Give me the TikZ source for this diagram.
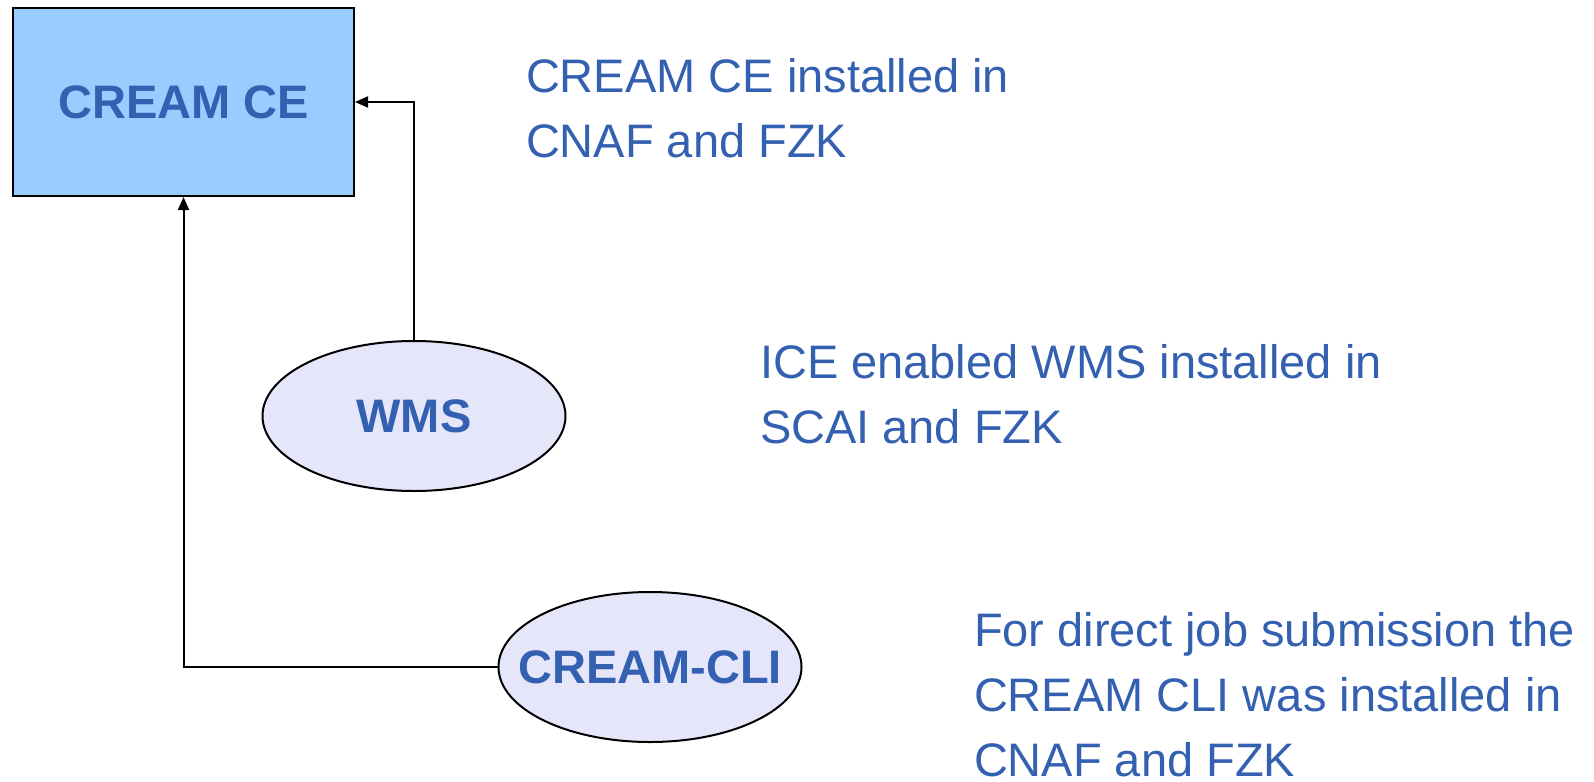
\documentclass[tikz,border=0pt]{standalone}
\usepackage{fontspec}
\setmainfont{Liberation Sans}
\usetikzlibrary{positioning, shapes.geometric, arrows.meta}

\definecolor{textblue}{RGB}{51,96,176}
\definecolor{boxblue}{RGB}{153,204,255}
\definecolor{lavender}{RGB}{230,230,250}

\begin{document}
\begin{tikzpicture}[x=1pt, y=-1pt, line width=2pt,
		big/.style = {font=\fontsize{47}{65}\selectfont, text=textblue},
		ce/.style = {draw, fill=boxblue, minimum width=341pt, minimum height=188pt, inner sep=0pt, big, font=\fontsize{47}{65}\selectfont\bfseries},
		comp/.style = {draw, ellipse, fill=lavender, minimum width=303pt, minimum height=150pt, inner ysep=0pt, inner xsep=-30pt, big, font=\fontsize{47}{65}\selectfont\bfseries},
		note/.style = {big, anchor=west, align=left, inner sep=0pt},
		link/.style = {-{Triangle[length=13pt, width=11pt]}}]
		\useasboundingbox (0,0) rectangle (1594,781);
		\node[ce] (CE) at (183.5,102) {CREAM CE};
		\node[comp] (WMS) at (414,416) {WMS};
		\node[comp] (CLI) at (650,667) {CREAM-CLI};
		\node[note] (t1) at (525,108.5) {CREAM CE installed in\\CNAF and FZK};
		\node[note] (t2) at (759,394) {ICE enabled WMS installed in\\SCAI and FZK};
		\node[note] (t3) at (973,695) {For direct job submission the\\CREAM CLI was installed in\\CNAF and FZK};
		\draw[link] (WMS.north) |- (CE.east);
		\draw[link] (CLI.west) -| (CE.south);
	\end{tikzpicture}
\end{document}
